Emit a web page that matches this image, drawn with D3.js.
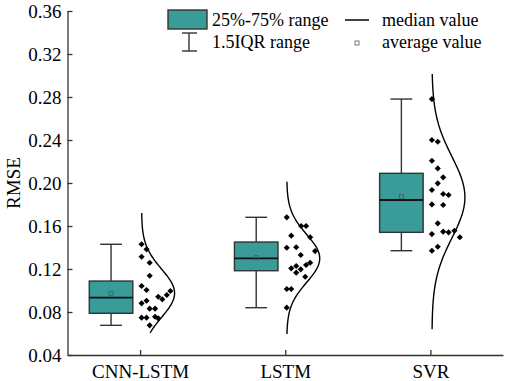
<!DOCTYPE html>
<html>
<head>
<meta charset="utf-8">
<script src="https://cdn.jsdelivr.net/npm/d3@7/dist/d3.min.js"></script>
<style>
  html, body { margin: 0; padding: 0; background: #fff; }
  svg { display: block; }
  svg text { font-family: "Liberation Serif", "Times New Roman", serif; }
</style>
</head>
<body>
<div id="chart"></div>
<script>
// RMSE half box plot with data points and normal curves
const categories = ["CNN-LSTM", "LSTM", "SVR"];
const yTicks = [0.04, 0.08, 0.12, 0.16, 0.20, 0.24, 0.28, 0.32, 0.36];

// box statistics
const boxQ1 = [0.0788, 0.1184, 0.1541];
const boxMedian = [0.0933, 0.1299, 0.1842];
const boxQ3 = [0.1088, 0.1451, 0.2090];
const whiskerLow = [0.0676, 0.0840, 0.1370];
const whiskerHigh = [0.1430, 0.1681, 0.2781];
const meanValue = [0.0974, 0.1305, 0.1872];

// curve extent (value range the distribution line covers)
const curveLow = [0.0605, 0.0595, 0.0639];
const curveHigh = [0.172, 0.2012, 0.3013];

// raw points, with their jitter column (abstract units)
const cnnLstmRmse = [0.1430, 0.1383, 0.1314, 0.1258, 0.1137, 0.1042, 0.1005, 0.0942, 0.0918, 0.0958,
  0.0995, 0.0881, 0.0905, 0.0831, 0.0831, 0.0747, 0.0747, 0.0756, 0.0741, 0.0676];
const cnnLstmJitter = [0, 1.1, 0, 1.8, 1.8, 0, 1.1, 3.7, 4.6, 5.6, 6.4, 0, 1.1, 1.8, 3, 0, 1.1, 3, 3.7, 1.8];

const lstmRmse = [0.1681, 0.1600, 0.1600, 0.1510, 0.1495, 0.1398, 0.1402, 0.1367, 0.1330, 0.1206,
  0.1228, 0.1197, 0.1166, 0.1237, 0.1258, 0.1128, 0.1014, 0.1014, 0.0840];
const lstmJitter = [0, 3.2, 4.3, 1, 5.2, 0, 2.1, 6.3, 3.1, 1, 2.1, 3.1, 2.1, 4.3, 5.2, 4.1, 0, 1, 0];

const svrRmse = [0.2781, 0.2400, 0.2384, 0.2207, 0.2136, 0.2053, 0.1997, 0.1935, 0.1898, 0.1888,
  0.1801, 0.1795, 0.1625, 0.1525, 0.1547, 0.1541, 0.1556, 0.1495, 0.1370, 0.1407];
const svrJitter = [0, 0, 1.3, 0, 1.3, 2.5, 1.3, 0, 2.5, 3.7, 0, 2.5, 1.3, 0, 2.5, 3.7, 5, 6.2, 0, 1.3];

(function() {
  'use strict';

  const width = 505, height = 381;
  const teal = "#3a9c98";
  const axisColor = "#333";
  const serif = "'Liberation Serif', 'Times New Roman', serif";

  const groups = categories.map((name, i) => ({
    name,
    q1: boxQ1[i], median: boxMedian[i], q3: boxQ3[i],
    lo: whiskerLow[i], hi: whiskerHigh[i], mean: meanValue[i],
    curveLo: curveLow[i], curveHi: curveHigh[i],
    values: [cnnLstmRmse, lstmRmse, svrRmse][i],
    jitter: [cnnLstmJitter, lstmJitter, svrJitter][i]
  }));

  const svg = d3.select("#chart").append("svg")
    .attr("width", width)
    .attr("height", height)
    .attr("font-family", serif);

  const x = d3.scalePoint()
    .domain(categories)
    .range([67.5, 503])
    .padding(0.5);

  const y = d3.scaleLinear()
    .domain([0.04, 0.36])
    .range([355, 11]);

  const boxW = x.step() * 0.3;
  const boxShift = x.step() * 0.2;
  const jitterX = d3.scaleLinear().domain([0, 1]).range([0, 4.5]);
  const curveAmp = d3.scaleLinear().domain([0, 1]).range([0, 33]);

  // axes
  const yAxis = svg.append("g")
    .attr("transform", "translate(67.5,0)")
    .call(d3.axisLeft(y).tickValues(yTicks).tickFormat(d3.format(".2f"))
      .tickSizeInner(-5).tickSizeOuter(0).tickPadding(6));

  const xAxis = svg.append("g")
    .attr("transform", "translate(0,355)")
    .call(d3.axisBottom(x).tickSizeInner(-5).tickSizeOuter(0).tickPadding(10));

  [yAxis, xAxis].forEach(g => {
    g.attr("font-family", serif).attr("font-size", 19);
    g.select(".domain").attr("stroke", axisColor).attr("stroke-width", 1.3);
    g.selectAll(".tick line").attr("stroke", axisColor).attr("stroke-width", 1.3);
    g.selectAll("text").attr("fill", "#000");
  });

  svg.append("text")
    .attr("transform", "translate(20,183) rotate(-90)")
    .attr("text-anchor", "middle")
    .style("font-size", "19px")
    .text("RMSE");

  const g = svg.selectAll(".group")
    .data(groups)
    .join("g")
    .attr("class", "group");

  // whiskers
  g.append("line")
    .attr("x1", d => x(d.name) - boxShift).attr("x2", d => x(d.name) - boxShift)
    .attr("y1", d => y(d.lo)).attr("y2", d => y(d.hi))
    .attr("stroke", axisColor).attr("stroke-width", 1.4);

  g.selectAll(".cap")
    .data(d => [d.lo, d.hi].map(v => ({ name: d.name, v })))
    .join("line")
    .attr("class", "cap")
    .attr("x1", d => x(d.name) - boxShift - boxW / 4)
    .attr("x2", d => x(d.name) - boxShift + boxW / 4)
    .attr("y1", d => y(d.v)).attr("y2", d => y(d.v))
    .attr("stroke", axisColor).attr("stroke-width", 1.4);

  // box
  g.append("rect")
    .attr("x", d => x(d.name) - boxShift - boxW / 2)
    .attr("width", boxW)
    .attr("y", d => y(d.q3))
    .attr("height", d => y(d.q1) - y(d.q3))
    .attr("fill", teal)
    .attr("stroke", axisColor)
    .attr("stroke-width", 1.4);

  g.append("line")
    .attr("x1", d => x(d.name) - boxShift - boxW / 2)
    .attr("x2", d => x(d.name) - boxShift + boxW / 2)
    .attr("y1", d => y(d.median)).attr("y2", d => y(d.median))
    .attr("stroke", "#111").attr("stroke-width", 1.8);

  g.append("rect")
    .attr("x", d => x(d.name) - boxShift - 2)
    .attr("y", d => y(d.mean) - 2)
    .attr("width", 4).attr("height", 4)
    .attr("fill", "none")
    .attr("stroke", "#555")
    .attr("stroke-width", 0.8);

  // data points
  const diamond = d3.symbol().type(d3.symbolSquare).size(19);
  g.selectAll(".pt")
    .data(d => d.values.map((v, i) => ({ name: d.name, v, j: d.jitter[i] })))
    .join("path")
    .attr("class", "pt")
    .attr("d", diamond)
    .attr("transform", d => `translate(${x(d.name) + 1.5 + jitterX(d.j)},${y(d.v)}) rotate(45)`)
    .attr("fill", "#000");

  // normal distribution curve from the points' mean and deviation
  g.append("path")
    .attr("fill", "none")
    .attr("stroke", "#000")
    .attr("stroke-width", 1.4)
    .attr("d", d => {
      const m = d3.mean(d.values), s = d3.deviation(d.values);
      const pts = d3.range(0, 101).map(k => {
        const v = d.curveLo + (d.curveHi - d.curveLo) * k / 100;
        return [v, Math.exp(-0.5 * ((v - m) / s) ** 2)];
      });
      return d3.line()
        .x(p => x(d.name) + 1.5 + curveAmp(p[1]))
        .y(p => y(p[0]))
        .curve(d3.curveBasis)(pts);
    });

  // legend
  const legend = svg.append("g").style("font-size", "18px");

  legend.append("rect")
    .attr("x", 168).attr("y", 10).attr("width", 39).attr("height", 19)
    .attr("fill", teal).attr("stroke", axisColor).attr("stroke-width", 1.4);
  legend.append("text").attr("x", 212).attr("y", 26).text("25%-75% range");

  legend.append("line").attr("x1", 189).attr("x2", 189).attr("y1", 33).attr("y2", 51)
    .attr("stroke", axisColor).attr("stroke-width", 1.4);
  [33, 51].forEach(v => legend.append("line")
    .attr("x1", 182).attr("x2", 197).attr("y1", v).attr("y2", v)
    .attr("stroke", axisColor).attr("stroke-width", 1.4));
  legend.append("text").attr("x", 212).attr("y", 48).text("1.5IQR range");

  legend.append("line").attr("x1", 345).attr("x2", 369).attr("y1", 20).attr("y2", 20)
    .attr("stroke", "#111").attr("stroke-width", 1.6);
  legend.append("text").attr("x", 382).attr("y", 26).text("median value");

  legend.append("rect").attr("x", 355).attr("y", 41).attr("width", 4).attr("height", 4)
    .attr("fill", "none").attr("stroke", "#555").attr("stroke-width", 0.8);
  legend.append("text").attr("x", 382).attr("y", 48).text("average value");
})();
</script>
</body>
</html>
